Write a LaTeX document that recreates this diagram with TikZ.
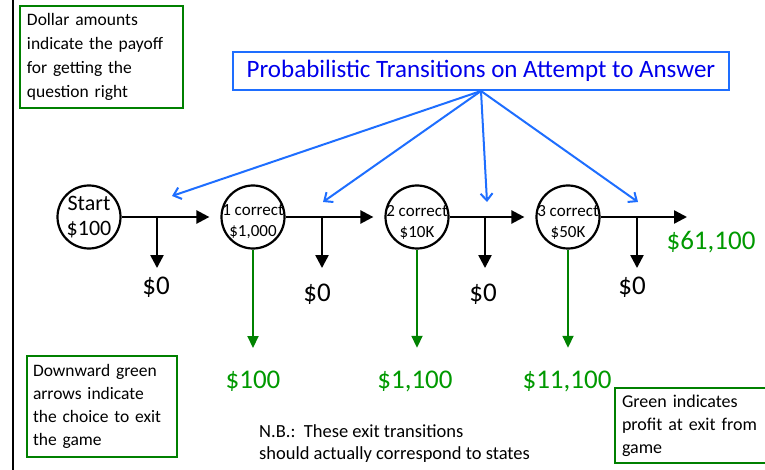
\documentclass[tikz,border=0pt]{standalone}
\usepackage{fontspec}
\setmainfont{Carlito}
\usetikzlibrary{arrows.meta}
\definecolor{notegreen}{RGB}{0,128,0}
\definecolor{paygreen}{RGB}{0,153,0}
\definecolor{tranblue}{RGB}{30,110,255}
\definecolor{titleblue}{RGB}{0,0,235}

\begin{document}
\begin{tikzpicture} [x=1pt, y=-1pt, %
  state/.style={circle, draw, line width=2.2pt, minimum size=63pt, inner sep=0pt}, %
  flow/.style={line width=2.4pt, -{Triangle[length=13pt, width=13pt]}}, %
  exit/.style={paygreen!85!black, line width=1.8pt, -{Triangle[length=12pt, width=11pt]}}, %
  tran/.style={tranblue, line width=2pt, -{Straight Barb[length=7pt, width=12pt]}}, %
  notebox/.style={draw=notegreen, line width=2pt, align=left, inner xsep=7pt, inner ysep=0pt}, %
  pay/.style={font=\fontsize{27}{27}\selectfont, inner sep=0pt}] %
\clip (0,0) rectangle (765,470); %
\draw [line width=1.6pt] (13,0) -- (13,470); %
 %
\node [notebox, anchor=north west, minimum width=163pt, minimum height=102pt, text width=149pt, %
  font=\fontsize{17.5}{24}\selectfont] (note1) at (19,5) %
  {Dollar amounts\\indicate the payoff\\for getting the\\question right}; %
\node [draw=tranblue, line width=2pt, text=titleblue, minimum width=496pt, minimum height=38pt, %
  font=\fontsize{25}{25}\selectfont] (title) at (481,71) {Probabilistic Transitions on Attempt to Answer}; %
 %
\foreach \i/\x in {0/89,1/253,2/417,3/568} \node [state] (s\i) at (\x,217) {}; %
\node [font=\fontsize{22}{25}\selectfont, align=center] (t0) at (s0) {Start\\\$100}; %
\foreach \i/\amt in {1/{\$1,000},2/{\$10K},3/{\$50K}} %
  \node [font=\fontsize{17}{21}\selectfont, align=center, yshift=-5pt] (t\i) at (s\i) {\i\ correct\\\amt}; %
 %
\coordinate (end) at (687,217); %
\foreach \i/\j in {0/1,1/2,2/3} \draw [flow, shorten >=11pt] (s\i) -- (s\j); %
\draw [flow] (s3) -- (end); %
 %
\foreach \i/\x/\lx/\ly in {0/157/156/287,1/322/317/294,2/485/483/294,3/637/632/287} { %
  \coordinate (b\i) at (\x,217); %
  \node [pay] (z\i) at (\lx,\ly) {\$0}; %
} %
\foreach \i/\s in {0/8.5,1/15.5,2/15.5,3/8.5} \draw [flow, shorten >=\s pt] (b\i) -- (b\i |- z\i.north); %
 %
\node [pay, text=paygreen] (p1) at (253,381) {\$100}; %
\node [pay, text=paygreen] (p2) at (415,381) {\$1,100}; %
\node [pay, text=paygreen] (p3) at (567,381) {\$11,100}; %
\node [pay, text=paygreen] (p4) at (711,242) {\$61,100}; %
\foreach \i in {1,2,3} \draw [exit, shorten >=22.5pt] (s\i.south) -- (s\i.south |- p\i.north); %
 %
\coordinate (a1) at (172,196); %
\coordinate (a2) at (323,202); %
\coordinate (a3) at (487,202); %
\coordinate (a4) at (638,202); %
\foreach \k in {1,2,3,4} \draw [tran] (title.south) -- (a\k); %
 %
\node [notebox, anchor=north west, minimum width=150pt, minimum height=101pt, text width=138pt, %
  inner xsep=6pt, font=\fontsize{17.5}{23}\selectfont] (note2) at (26,355) %
  {Downward green\\arrows indicate\\the choice to exit\\the game}; %
\node [notebox, anchor=north west, minimum width=160pt, minimum height=75pt, text width=146pt, %
  font=\fontsize{18}{23}\selectfont] (note3) at (614,387) %
  {Green indicates\\profit at exit from\\game}; %
\node [anchor=north west, align=left, inner sep=0pt, font=\fontsize{18.5}{22}\selectfont] (nb) at (259,424) %
  {N.B.:\ \ These exit transitions\\should actually correspond to states}; %
\end{tikzpicture}
\end{document}
